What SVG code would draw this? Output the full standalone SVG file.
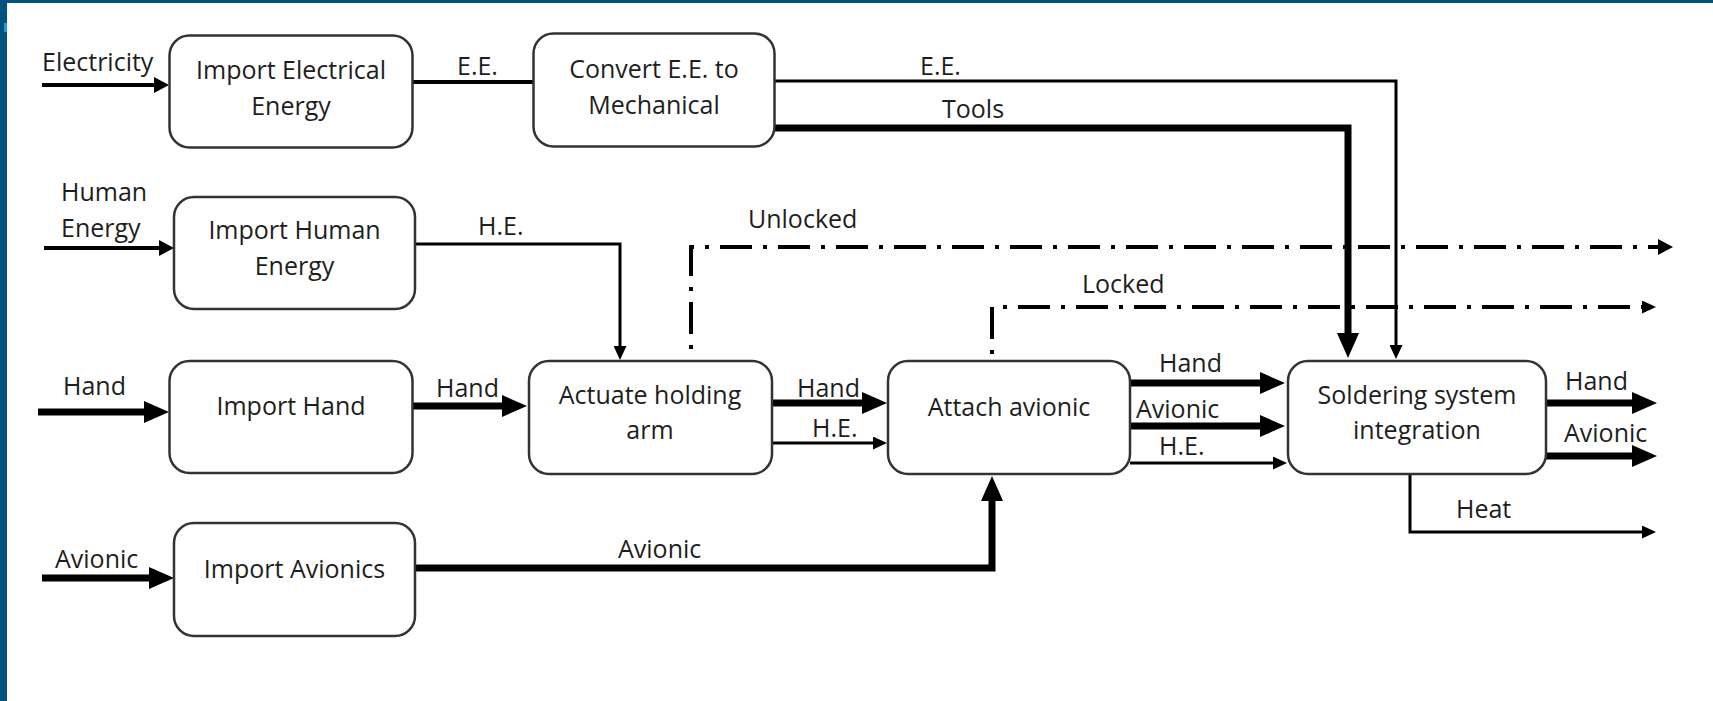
<svg xmlns="http://www.w3.org/2000/svg" width="1713" height="701" viewBox="0 0 1713 701">
<style>
.box{fill:#fff;stroke:#333;stroke-width:2.5}
.t{font-family:"Open Sans","Liberation Sans",sans-serif;font-size:25px;fill:#1e1e1e}
.c{text-anchor:middle}
.thick{fill:none;stroke:#000;stroke-width:7}
.med{fill:none;stroke:#000;stroke-width:4}
.thin{fill:none;stroke:#000;stroke-width:3}
.dd{fill:none;stroke:#000;stroke-width:4;stroke-dasharray:4 11 32 11}
</style>
<defs>
<marker id="aT" markerUnits="userSpaceOnUse" markerWidth="25" markerHeight="22" viewBox="0 0 25 22" refX="1" refY="11" orient="auto"><path d="M0,0 L25,11 L0,22 z" fill="#000"/></marker>
<marker id="aM" markerUnits="userSpaceOnUse" markerWidth="15" markerHeight="16" viewBox="0 0 15 16" refX="1" refY="8" orient="auto"><path d="M0,0 L15,8 L0,16 z" fill="#000"/></marker>
<marker id="aS" markerUnits="userSpaceOnUse" markerWidth="14" markerHeight="13" viewBox="0 0 14 13" refX="1" refY="6.5" orient="auto"><path d="M0,0 L14,6.5 L0,13 z" fill="#000"/></marker>
</defs>
<rect x="0" y="0" width="1713" height="701" fill="#fff"/>
<rect x="0" y="0" width="1713" height="3" fill="#02527e"/>
<rect x="0" y="0" width="7" height="701" fill="#02527e"/>
<rect x="4" y="23" width="3" height="9" fill="#1c9be0"/>

<g id="connectors">
<path class="med" d="M42,85 H155" marker-end="url(#aM)"/>
<path class="med" d="M412,82 H533"/>
<path class="med" d="M44,248 H160" marker-end="url(#aM)"/>
<path class="thin" d="M415,244 H620 V347" marker-end="url(#aS)"/>
<path class="thin" d="M775,81 H1396 V346" marker-end="url(#aS)"/>
<path class="thick" d="M775,128 H1348 V334" marker-end="url(#aT)"/>
<path class="thick" d="M38,412 H145" marker-end="url(#aT)"/>
<path class="thick" d="M412,406 H503" marker-end="url(#aT)"/>
<path class="dd" d="M691,349 V247 H1659" marker-end="url(#aM)"/>
<path class="thick" d="M772,403 H863" marker-end="url(#aT)"/>
<path class="thin" d="M772,443 H874" marker-end="url(#aS)"/>
<path class="dd" d="M992,354 V307 H1643" marker-end="url(#aS)"/>
<path class="thick" d="M42,578 H150" marker-end="url(#aT)"/>
<path class="thick" d="M415,568 H992 V500" marker-end="url(#aT)"/>
<path class="thick" d="M1130,383 H1261" marker-end="url(#aT)"/>
<path class="thick" d="M1130,426 H1261" marker-end="url(#aT)"/>
<path class="thin" d="M1130,463 H1274" marker-end="url(#aS)"/>
<path class="thick" d="M1546,403 H1633" marker-end="url(#aT)"/>
<path class="thick" d="M1546,456 H1633" marker-end="url(#aT)"/>
<path class="thin" d="M1410,474 V532 H1643" marker-end="url(#aS)"/>
</g>

<g id="labels" class="t">
<text x="42" y="71">Electricity</text>
<text x="61" y="201">Human</text>
<text x="61" y="237">Energy</text>
<text x="457" y="75">E.E.</text>
<text x="478" y="235">H.E.</text>
<text x="920" y="75">E.E.</text>
<text x="942" y="118">Tools</text>
<text x="748" y="228">Unlocked</text>
<text x="1082" y="293">Locked</text>
<text x="63" y="395">Hand</text>
<text x="436" y="397">Hand</text>
<text x="797" y="397">Hand</text>
<text x="812" y="437">H.E.</text>
<text x="55" y="568">Avionic</text>
<text x="618" y="558">Avionic</text>
<text x="1159" y="372">Hand</text>
<text x="1136" y="418">Avionic</text>
<text x="1159" y="455">H.E.</text>
<text x="1565" y="390">Hand</text>
<text x="1564" y="442">Avionic</text>
<text x="1456" y="518">Heat</text>
</g>

<g id="n-import-electrical">
<rect class="box" x="169.5" y="35.5" width="243" height="112" rx="20"/>
<text class="t c" x="291" y="79">Import Electrical</text>
<text class="t c" x="291" y="115">Energy</text>
</g>
<g id="n-convert">
<rect class="box" x="533.5" y="33.5" width="241" height="113" rx="20"/>
<text class="t c" x="654" y="78">Convert E.E. to</text>
<text class="t c" x="654" y="114">Mechanical</text>
</g>
<g id="n-import-human">
<rect class="box" x="174" y="197" width="241" height="112" rx="20"/>
<text class="t c" x="294.5" y="239">Import Human</text>
<text class="t c" x="294.5" y="275">Energy</text>
</g>
<g id="n-import-hand">
<rect class="box" x="169.5" y="361" width="243" height="112" rx="20"/>
<text class="t c" x="291" y="415">Import Hand</text>
</g>
<g id="n-actuate">
<rect class="box" x="529" y="361" width="243" height="113" rx="20"/>
<text class="t c" x="650" y="404">Actuate holding</text>
<text class="t c" x="650" y="439">arm</text>
</g>
<g id="n-attach">
<rect class="box" x="888" y="361" width="242" height="113" rx="20"/>
<text class="t c" x="1009" y="416">Attach avionic</text>
</g>
<g id="n-soldering">
<rect class="box" x="1288" y="361" width="258" height="113" rx="20"/>
<text class="t c" x="1417" y="404">Soldering system</text>
<text class="t c" x="1417" y="439">integration</text>
</g>
<g id="n-import-avionics">
<rect class="box" x="174" y="523" width="241" height="113" rx="20"/>
<text class="t c" x="294.5" y="578">Import Avionics</text>
</g>
</svg>
